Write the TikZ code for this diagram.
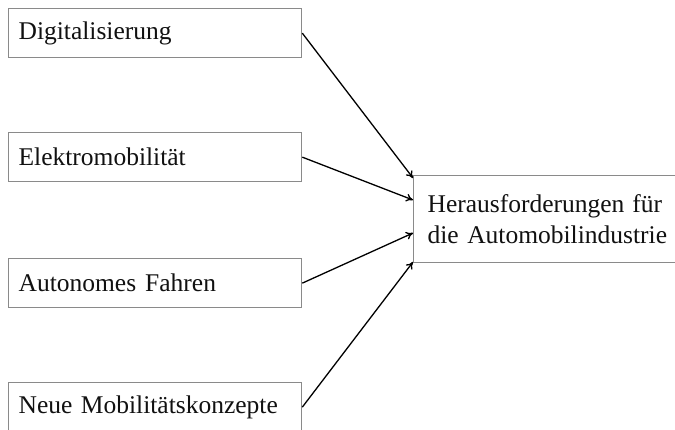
\documentclass[tikz,border=0pt]{standalone}
\usepackage{fontspec}
\setmainfont{Liberation Serif}
\usetikzlibrary{arrows.meta,calc}
\definecolor{boxgray}{HTML}{8A8A8A}
\definecolor{txt}{HTML}{111111}
\begin{document}
\begin{tikzpicture}[x=1pt,y=-1pt,
  srcbox/.style={draw=boxgray,line width=1.3pt,rectangle,anchor=north west,
    minimum width=293pt,minimum height=49pt,inner xsep=10pt,inner ysep=0pt,
    text width=273pt,align=left,text=txt,font=\fontsize{25.5}{30}\selectfont},
  tgtbox/.style={draw=boxgray,line width=1.3pt,rectangle,anchor=north west,
    minimum width=270pt,minimum height=87pt,inner xsep=14pt,inner ysep=0pt,
    text width=242pt,align=left,text=txt,font=\fontsize{25.5}{31}\selectfont},
  conn/.style={draw=black,line width=1.3pt,-{To[length=7pt,width=8pt]}}]
\useasboundingbox[fill=white] (0,0) rectangle (675,430);
\node[srcbox] (d) at (8,8) {Digitalisierung};
\node[srcbox] (e) at (8,132) {Elektromobilität};
\node[srcbox] (a) at (8,258) {Autonomes\hspace{9pt}Fahren};
\node[srcbox] (n) at (8,382) {Neue Mobilitätskonzepte};
\node[tgtbox] (h) at (413,175) {Herausforderungen\hspace{8pt}für\\die Automobilindustrie};
\coordinate (t1) at ($(h.north west)+(0,3)$);
\coordinate (t2) at ($(h.north west)+(0,25)$);
\coordinate (t3) at ($(h.north west)+(0,58)$);
\coordinate (t4) at ($(h.north west)+(0,87)$);
\draw[conn] (d.east) -- (t1);
\draw[conn] (e.east) -- (t2);
\draw[conn] (a.east) -- (t3);
\draw[conn] (n.east) -- (t4);
\end{tikzpicture}
\end{document}
